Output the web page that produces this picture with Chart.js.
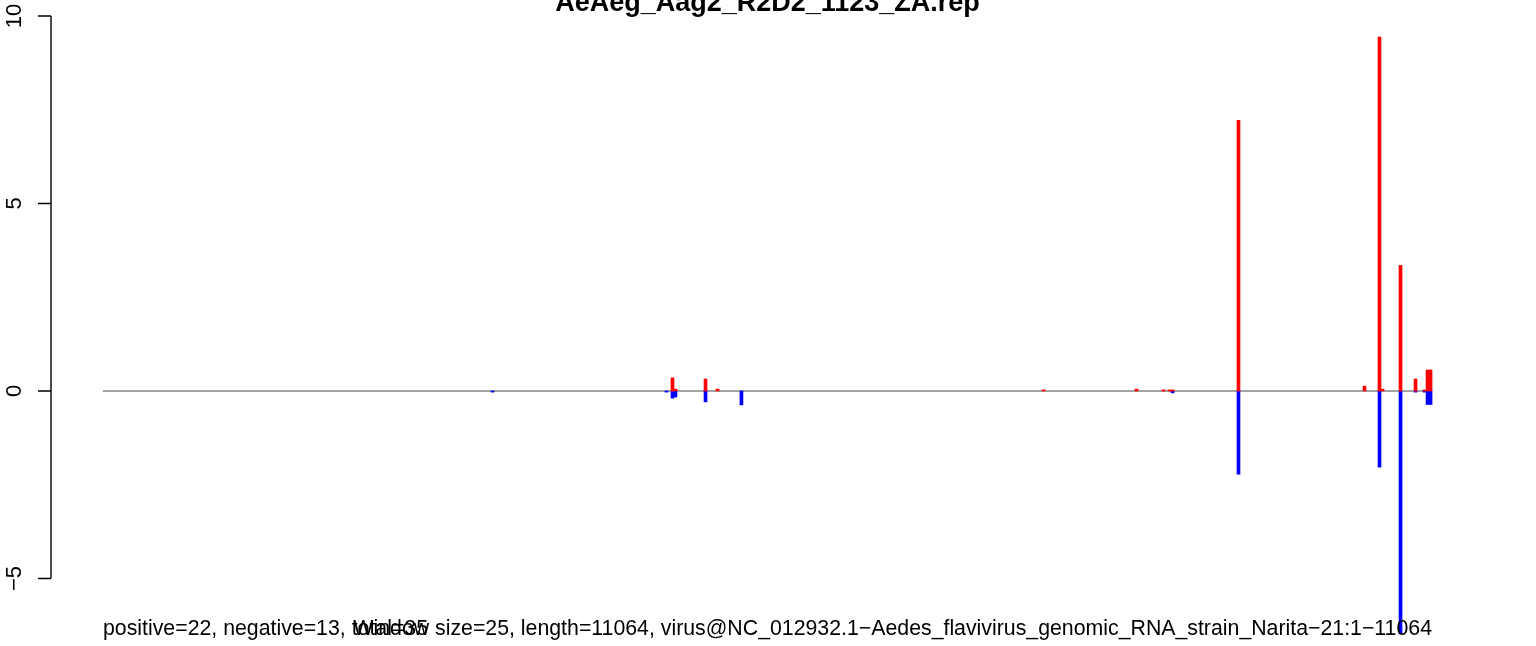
<!DOCTYPE html>
<html>
<head>
<meta charset="utf-8">
<script src="https://cdn.jsdelivr.net/npm/chart.js@4/dist/chart.umd.min.js"></script>
<style>
html,body{margin:0;padding:0;background:#fff;}
#wrap{width:1536px;height:646px;position:relative;}
</style>
</head>
<body>
<div id="wrap"><canvas id="c" width="1536" height="646"></canvas></div>
<script>
// ---- data ----
const titleText = "AeAeg_Aag2_R2D2_1123_ZA.rep";
const statsText = "positive=22, negative=13, total=35";
const infoText = "Window size=25, length=11064, virus@NC_012932.1\u2212Aedes_flavivirus_genomic_RNA_strain_Narita\u221221:1\u221211064";
const genomeLength = 11064;
const positions = [3243, 4691, 4741, 4766, 5016, 5116, 5315, 7830, 8604, 8829, 8879, 8904, 9453, 10502, 10627, 10652, 10802, 10927, 11002, 11027, 11052];
const plusVals  = [0, 0, 0.35, 0.05, 0.32, 0.05, 0, 0.03, 0.05, 0.03, 0.03, 0.03, 7.22, 0.13, 9.44, 0.05, 3.35, 0.32, 0.03, 0.56, 0.56];
const minusVals = [-0.03, -0.03, -0.19, -0.16, -0.29, 0, -0.37, 0, 0, 0, 0, -0.05, -2.22, 0, -2.03, 0, -6.48, -0.03, -0.03, -0.36, -0.36];
const yTicks = [-5, 0, 5, 10];

const FONT = "'Liberation Sans', Arial, Helvetica, sans-serif";

const plusData = positions.map((p, i) => ({x: p, y: plusVals[i]})).filter(d => d.y !== 0);
const minusData = positions.map((p, i) => ({x: p, y: minusVals[i]})).filter(d => d.y !== 0);

const decor = {
  id: 'decor',
  beforeDatasetsDraw(chart) {
    const ctx = chart.ctx;
    const xs = chart.scales.x, ys = chart.scales.y;
    ctx.save();
    ctx.strokeStyle = '#a3a3a3';
    ctx.lineWidth = 2;
    ctx.beginPath();
    ctx.moveTo(xs.getPixelForValue(0), ys.getPixelForValue(0));
    ctx.lineTo(xs.getPixelForValue(genomeLength), ys.getPixelForValue(0));
    ctx.stroke();
    ctx.restore();
  },
  afterDatasetsDraw(chart) {
    const ctx = chart.ctx;
    const xs = chart.scales.x, ys = chart.scales.y;
    const area = chart.chartArea;
    ctx.save();
    // y axis (R style)
    const ax = area.left;
    ctx.strokeStyle = '#000';
    ctx.lineWidth = 1.4;
    ctx.beginPath();
    ctx.moveTo(ax, ys.getPixelForValue(yTicks[yTicks.length - 1]));
    ctx.lineTo(ax, ys.getPixelForValue(yTicks[0]));
    yTicks.forEach(t => {
      const py = ys.getPixelForValue(t);
      ctx.moveTo(ax - 13, py);
      ctx.lineTo(ax, py);
    });
    ctx.stroke();
    ctx.fillStyle = '#000';
    ctx.font = '22px ' + FONT;
    ctx.textAlign = 'center';
    ctx.textBaseline = 'alphabetic';
    yTicks.forEach(t => {
      const py = ys.getPixelForValue(t);
      ctx.save();
      ctx.translate(21, py);
      ctx.rotate(-Math.PI / 2);
      ctx.fillText(String(t).replace('-', '\u2212'), 0, 0);
      ctx.restore();
    });
    // title
    ctx.font = 'bold 27px ' + FONT;
    ctx.textAlign = 'center';
    const cx = (xs.getPixelForValue(0) + xs.getPixelForValue(genomeLength)) / 2;
    ctx.fillText(titleText, cx, 11);
    // bottom texts
    ctx.font = '21.3px ' + FONT;
    ctx.textAlign = 'left';
    ctx.fillText(statsText, xs.getPixelForValue(0), 635);
    ctx.textAlign = 'right';
    ctx.fillText(infoText, xs.getPixelForValue(genomeLength), 635);
    ctx.restore();
  }
};

new Chart(document.getElementById('c'), {
  type: 'bar',
  data: {
    datasets: [
      {label: 'plus', data: plusData, backgroundColor: '#ff0000', borderWidth: 0, grouped: false, barPercentage: 1, categoryPercentage: 1},
      {label: 'minus', data: minusData, backgroundColor: '#0000ff', borderWidth: 0, grouped: false, barPercentage: 1, categoryPercentage: 1}
    ]
  },
  options: {
    responsive: false,
    animation: false,
    devicePixelRatio: 1,
    layout: {padding: {left: 51, right: 56, top: 10, bottom: 6}},
    plugins: {legend: {display: false}, title: {display: false}, tooltip: {enabled: false}},
    scales: {
      x: {type: 'linear', display: false, offset: false, min: -432.9, max: 11463.6, ticks: {stepSize: 2000}},
      y: {type: 'linear', display: false, min: -6.64, max: 10.16}
    }
  },
  plugins: [decor]
});
</script>
</body>
</html>
